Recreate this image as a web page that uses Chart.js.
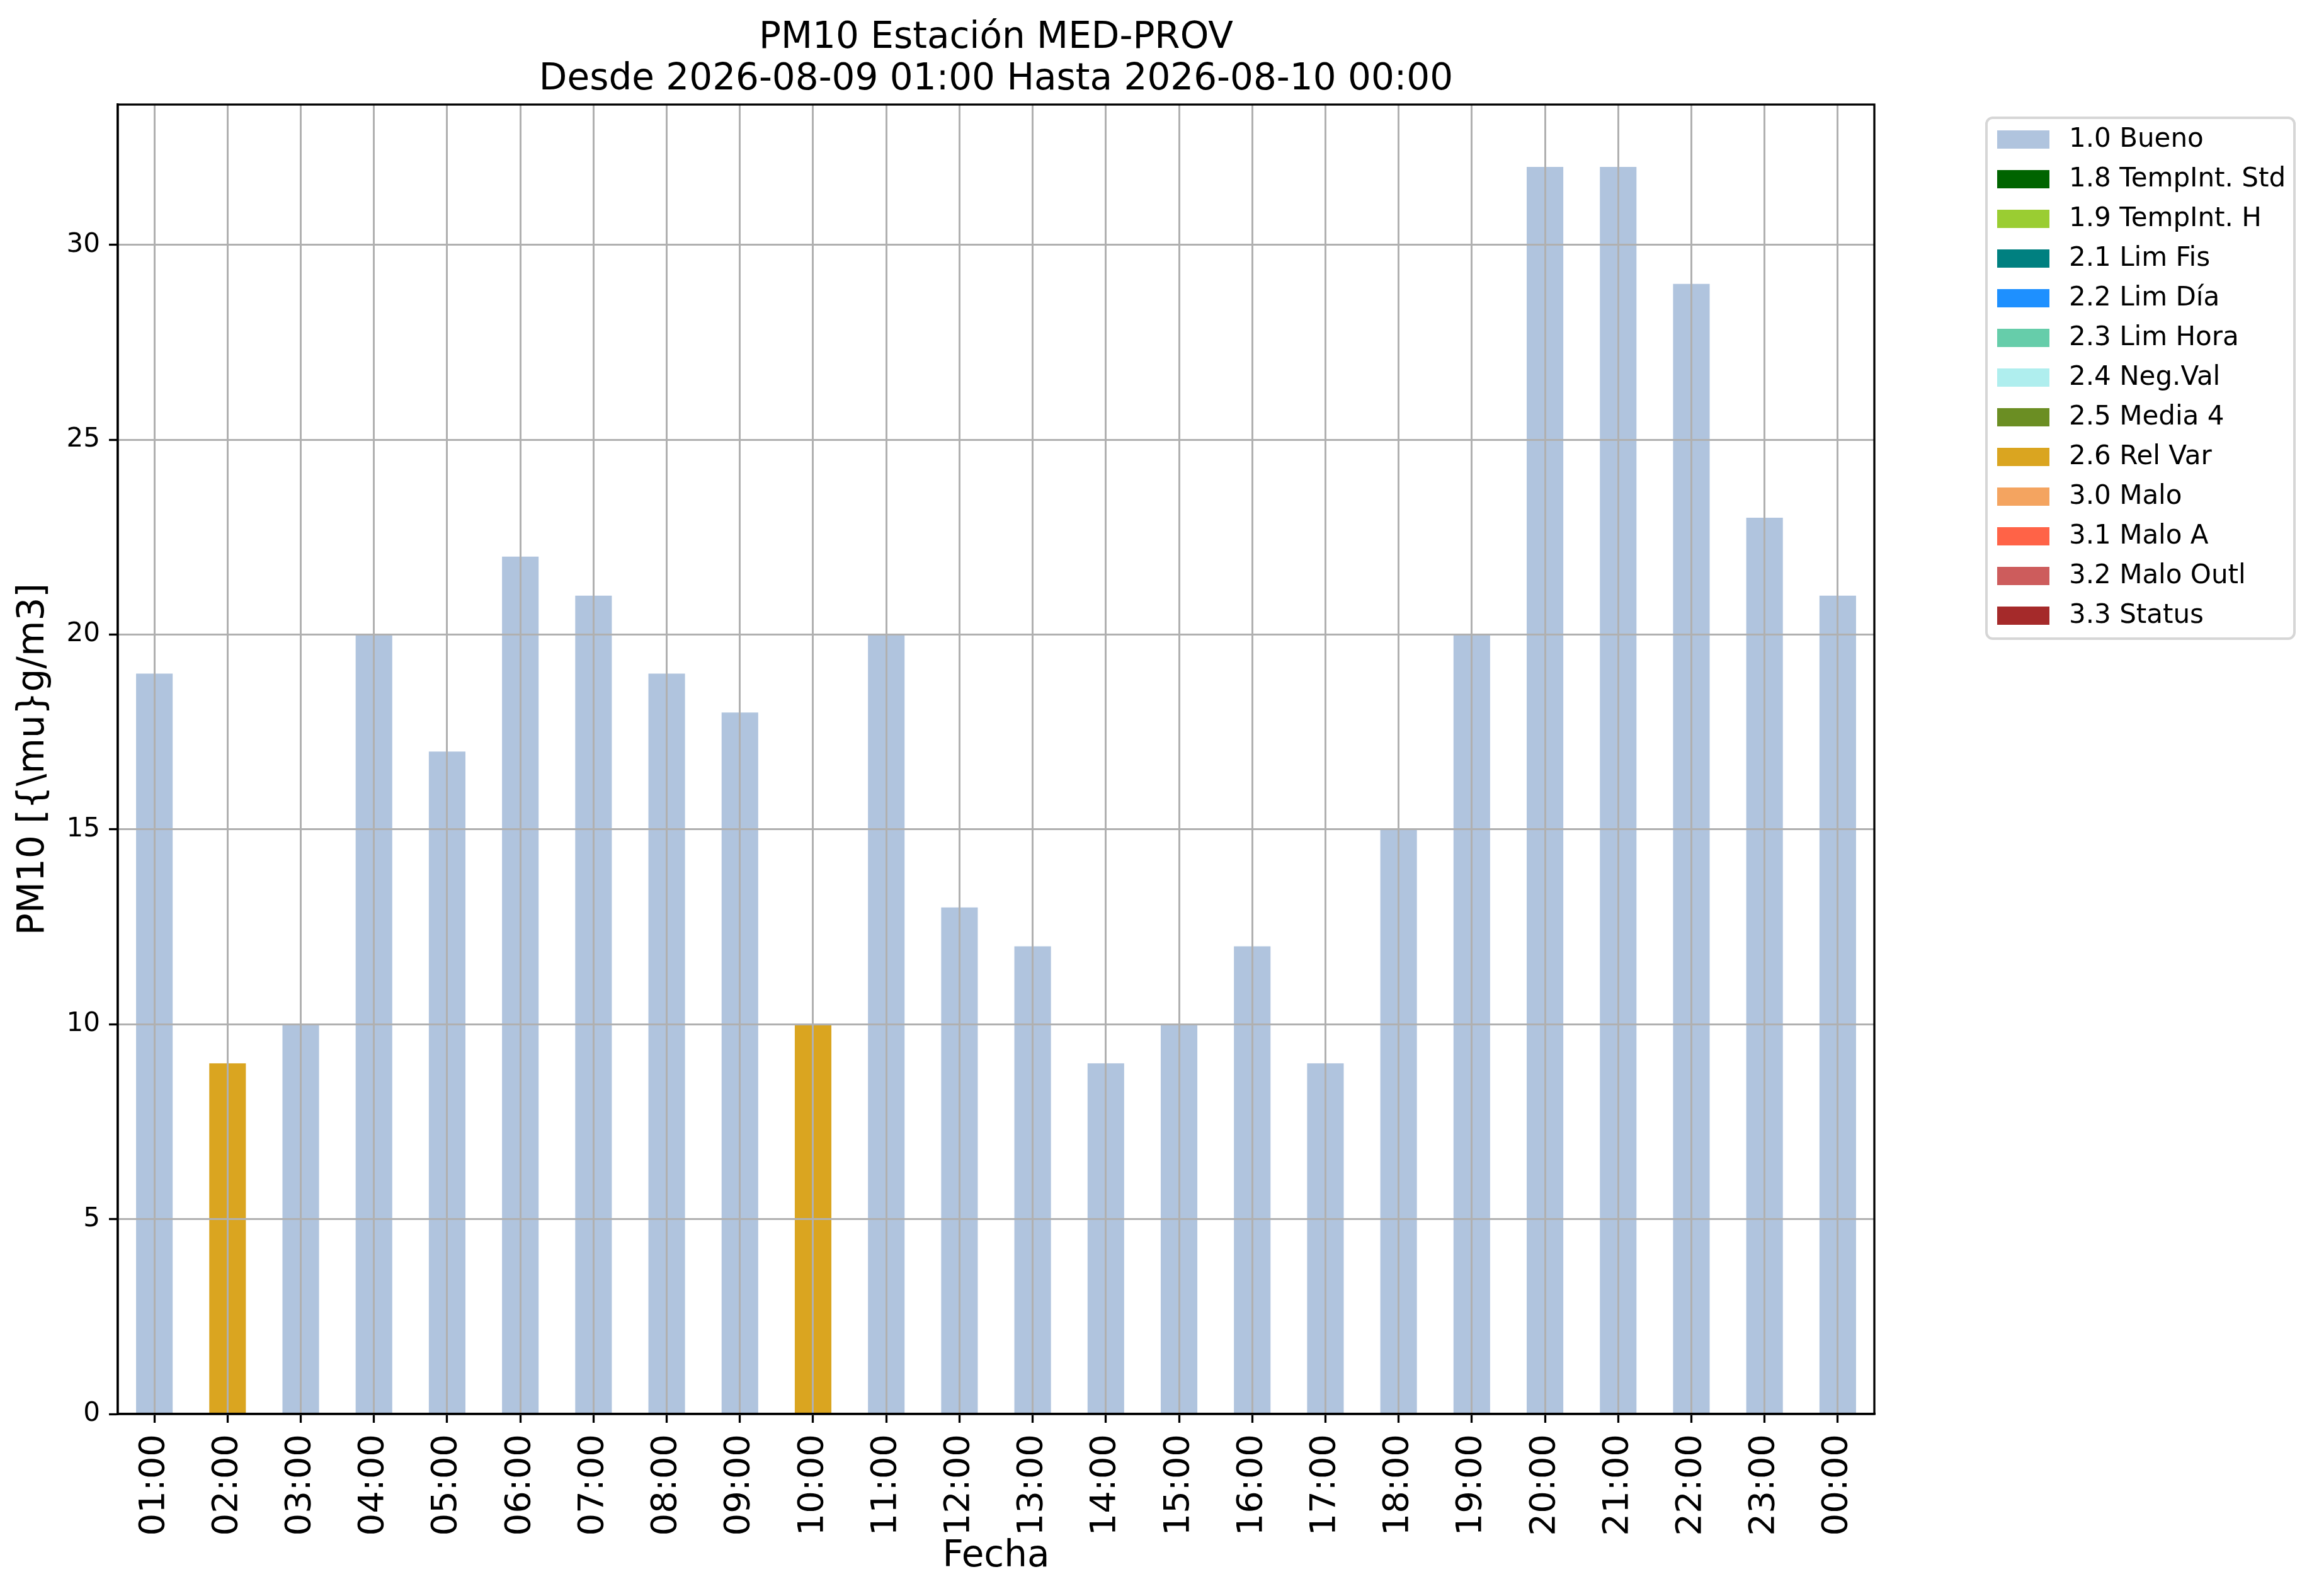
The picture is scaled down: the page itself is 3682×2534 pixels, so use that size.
<!DOCTYPE html>
<html>
<head>
<meta charset="utf-8">
<script src="https://cdn.jsdelivr.net/npm/chart.js@4.4.1/dist/chart.umd.min.js"></script>
<style>
  html, body { margin: 0; padding: 0; background: #ffffff; }
  canvas { display: block; }
</style>
</head>
<body>
<canvas id="grafico-pm10" width="3682" height="2534"></canvas>
<script>
// horas del periodo
var horas = ["01:00", "02:00", "03:00", "04:00", "05:00", "06:00", "07:00", "08:00",
  "09:00", "10:00", "11:00", "12:00", "13:00", "14:00", "15:00", "16:00",
  "17:00", "18:00", "19:00", "20:00", "21:00", "22:00", "23:00", "00:00"];

// valores por categoria de validacion (null = sin dato)
var bueno = [19, null, 10, 20, 17, 22, 21, 19, 18, null, 20, 13,
  12, 9, 10, 12, 9, 15, 20, 32, 32, 29, 23, 21];
var relVar = [null, 9, null, null, null, null, null, null, null, 10, null, null,
  null, null, null, null, null, null, null, null, null, null, null, null];
var vacio = [];

var categorias = ["1.0 Bueno", "1.8 TempInt. Std", "1.9 TempInt. H", "2.1 Lim Fis",
  "2.2 Lim Día", "2.3 Lim Hora", "2.4 Neg.Val", "2.5 Media 4", "2.6 Rel Var",
  "3.0 Malo", "3.1 Malo A", "3.2 Malo Outl", "3.3 Status"];
var colores = ["#B0C4DE", "#006400", "#9ACD32", "#008080", "#1E90FF", "#66CDAA",
  "#AFEEEE", "#6B8E23", "#DAA520", "#F4A460", "#FF6347", "#CD5C5C", "#A52A2A"];
var valores = [bueno, vacio, vacio, vacio, vacio, vacio, vacio, vacio, relVar,
  vacio, vacio, vacio, vacio];

var yTicks = [0, 5, 10, 15, 20, 25, 30];
var yMax = 33.6;

var titulo = ["PM10 Estación MED-PROV", "Desde 2026-08-09 01:00 Hasta 2026-08-10 00:00"];

Chart.defaults.font.family = "'DejaVu Sans', sans-serif";
Chart.defaults.color = "#000000";

var datasets = categorias.map(function (nombre, i) {
  return {
    label: nombre,
    data: valores[i],
    backgroundColor: colores[i],
    borderWidth: 0,
    categoryPercentage: 1.0,
    barPercentage: 0.5,
  };
});

// titulo, marco y leyenda al estilo matplotlib
var extras = {
  id: "extras",
  afterDraw: function (chart) {
    var ctx = chart.ctx;
    var area = chart.chartArea;
    ctx.save();

    // marco completo
    ctx.strokeStyle = "#000000";
    ctx.lineWidth = 3.3;
    ctx.strokeRect(area.left, area.top, area.right - area.left, area.bottom - area.top);

    // titulo
    ctx.fillStyle = "#000000";
    ctx.font = "58px 'DejaVu Sans'";
    ctx.textAlign = "center";
    ctx.textBaseline = "alphabetic";
    var cx = (area.left + area.right) / 2;
    ctx.fillText(titulo[0], cx, 76);
    ctx.fillText(titulo[1], cx, 142);

    // leyenda
    var bx = 3154, by = 187, bw = 489, bh = 827;
    ctx.beginPath();
    ctx.roundRect(bx, by, bw, bh, 10);
    ctx.fillStyle = "#ffffff";
    ctx.fill();
    ctx.strokeStyle = "#d6d6d6";
    ctx.lineWidth = 4;
    ctx.stroke();

    ctx.font = "42px 'DejaVu Sans'";
    ctx.textAlign = "left";
    ctx.textBaseline = "middle";
    chart.data.datasets.forEach(function (ds, i) {
      var y = 207 + i * 63;
      ctx.fillStyle = ds.backgroundColor;
      ctx.fillRect(3171, y, 83, 29);
      ctx.fillStyle = "#000000";
      ctx.fillText(ds.label, 3285, y + 15);
    });
    ctx.restore();
  },
};

new Chart(document.getElementById("grafico-pm10").getContext("2d"), {
  type: "bar",
  data: {
    labels: horas,
    datasets: datasets,
  },
  options: {
    responsive: false,
    animation: false,
    devicePixelRatio: 1,
    layout: {
      padding: { top: 166, right: 706, left: 0, bottom: 0 },
    },
    plugins: {
      title: { display: false },
      legend: { display: false },
      tooltip: { enabled: false },
    },
    scales: {
      x: {
        stacked: true,
        offset: true,
        grid: {
          z: 1,
          offset: false,
          color: "#b0b0b0",
          lineWidth: 3,
          tickLength: 14,
          tickColor: "#000000",
          tickWidth: 3.3,
        },
        border: { color: "#000000", width: 3.3, z: 2 },
        ticks: {
          autoSkip: false,
          maxRotation: 90,
          minRotation: 90,
          padding: 18,
          font: { size: 56 },
        },
        title: {
          display: true,
          text: "Fecha",
          font: { size: 58 },
          padding: { top: 0, bottom: 27 },
        },
        afterFit: function (scale) {
          scale.height = 289;
        },
      },
      y: {
        stacked: true,
        min: 0,
        max: yMax,
        afterBuildTicks: function (scale) {
          scale.ticks = yTicks.map(function (v) { return { value: v }; });
        },
        grid: {
          z: 1,
          color: "#b0b0b0",
          lineWidth: 3,
          tickLength: 14,
          tickColor: "#000000",
          tickWidth: 3.3,
        },
        border: { color: "#000000", width: 3.3, z: 2 },
        ticks: {
          padding: 14,
          font: { size: 42 },
        },
        title: {
          display: true,
          text: "PM10 [{\\mu}g/m3]",
          font: { size: 58 },
          padding: { top: 19, bottom: 0 },
        },
        afterFit: function (scale) {
          scale.width = 187;
        },
      },
    },
  },
  plugins: [extras],
});
</script>
</body>
</html>
